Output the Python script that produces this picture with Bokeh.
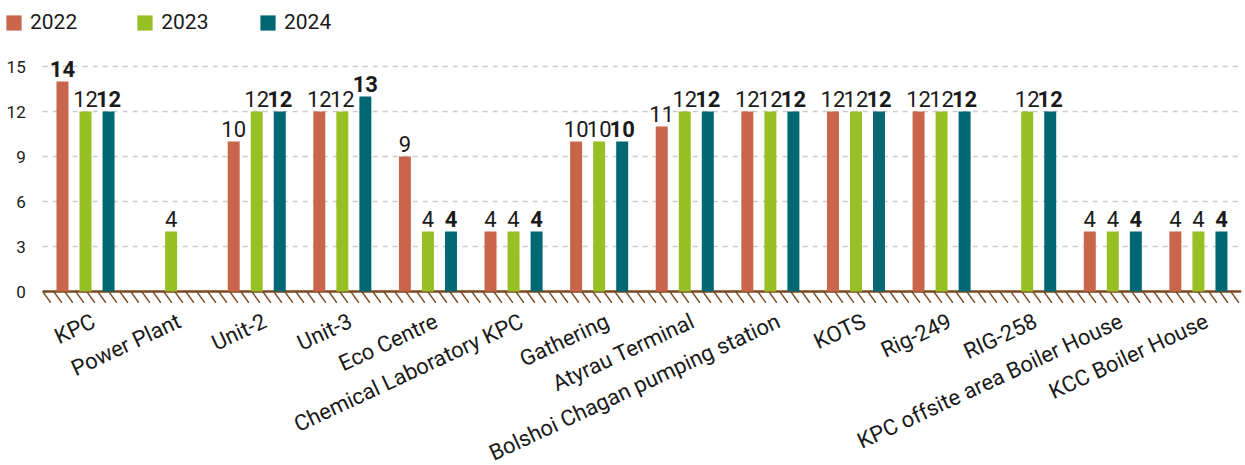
import numpy as np
from bokeh.plotting import figure
from bokeh.models import (ColumnDataSource, Range1d, Legend, LegendItem)
from bokeh.core.properties import value
from bokeh.embed import file_html
from bokeh.resources import INLINE

categories = ["KPC", "Power Plant", "Unit-2", "Unit-3", "Eco Centre",
              "Chemical Laboratory KPC", "Gathering", "Atyrau Terminal",
              "Bolshoi Chagan pumping station", "KOTS", "Rig-249", "RIG-258",
              "KPC offsite area Boiler House", "KCC Boiler House"]
years = ["2022", "2023", "2024"]
v2022 = [14, None, 10, 12, 9, 4, 10, 11, 12, 12, 12, None, 4, 4]
v2023 = [12, 4, 12, 12, 4, 4, 10, 12, 12, 12, 12, 12, 4, 4]
v2024 = [12, None, 12, 13, 4, 4, 10, 12, 12, 12, 12, 12, 4, 4]
y_ticks = [0, 3, 6, 9, 12, 15]

series = [v2022, v2023, v2024]
colors = ["#C8654A", "#97C024", "#006773"]
offsets = [-0.269, 0.0, 0.269]
# label weights as in the reference (2024 labels bold, KPC 2022 label bold)
weights = [["bold"] + ["normal"] * 13, ["normal"] * 14, ["bold"] * 14]

FONT = "Roboto"
TXT = "#1a1a1a"
BROWN = "#7a4a22"
n = len(categories)
centers = np.arange(n) + 0.5

p = figure(x_range=Range1d(-0.493, 14.05), y_range=Range1d(-11.6, 19.4),
           width=1245, height=465,
           output_backend="svg", toolbar_location=None,
           min_border=0, outline_line_color=None)
p.xaxis.visible = False
p.yaxis.visible = False
p.xgrid.grid_line_color = None
p.ygrid.grid_line_color = None

# dashed value grid
p.segment(x0=0, x1=n, y0=y_ticks, y1=y_ticks, line_color="#cccccc",
          line_width=1.5, line_dash="5 5")
# y tick labels
p.text(x=0, y=y_ticks, text=[str(t) for t in y_ticks], text_align="right",
       text_baseline="middle", x_offset=-17, text_font=value(FONT),
       text_font_size="17px", text_color=TXT)

# hatched ground below the zero line (decoration)
hx = np.arange(0.0, n, 0.1285)
p.segment(x0=hx, y0=0, x1=hx + 0.095, y1=-0.75, line_color=BROWN, line_width=1.3)
p.segment(x0=0, x1=n, y0=0, y1=0, line_color=BROWN, line_width=2.5)

renderers = []
for vals, col, off, wts, yr in zip(series, colors, offsets, weights, years):
    idx = [i for i, v in enumerate(vals) if v is not None]
    src = ColumnDataSource(dict(
        x=[centers[i] + off for i in idx],
        v=[vals[i] for i in idx],
        lab=[str(vals[i]) for i in idx],
        w=[wts[i] for i in idx],
    ))
    r = p.vbar(x="x", top="v", bottom=0, width=0.14,
               source=src, fill_color=col, line_color=None)
    renderers.append((yr, r))
    p.text(x="x", y="v", text="lab", source=src,
           text_align="center", text_baseline="bottom", y_offset=-5,
           text_font=value(FONT), text_font_size="22px", text_color=TXT,
           text_font_style="w")

# category labels, rotated, below the ground
p.text(x=centers, y=0, text=categories, angle=25, angle_units="deg",
       x_offset=3, y_offset=17, text_align="right", text_baseline="top",
       text_font=value(FONT), text_font_size="22px", text_color=TXT)

legend_style = dict(orientation="horizontal", glyph_width=19, glyph_height=19,
                    label_standoff=7, spacing=58, padding=0, margin=0,
                    border_line_color=None, label_text_font=FONT,
                    label_text_font_size="21px", label_text_color=TXT,
                    background_fill_alpha=0)
items = [LegendItem(label=yr, renderers=[r]) for yr, r in renderers]
p.add_layout(Legend(items=items[:2], location=(4, 431), **legend_style))
p.add_layout(Legend(items=items[2:], location=(258, 431), **legend_style))

open("out.html", "w").write(file_html(p, INLINE))
